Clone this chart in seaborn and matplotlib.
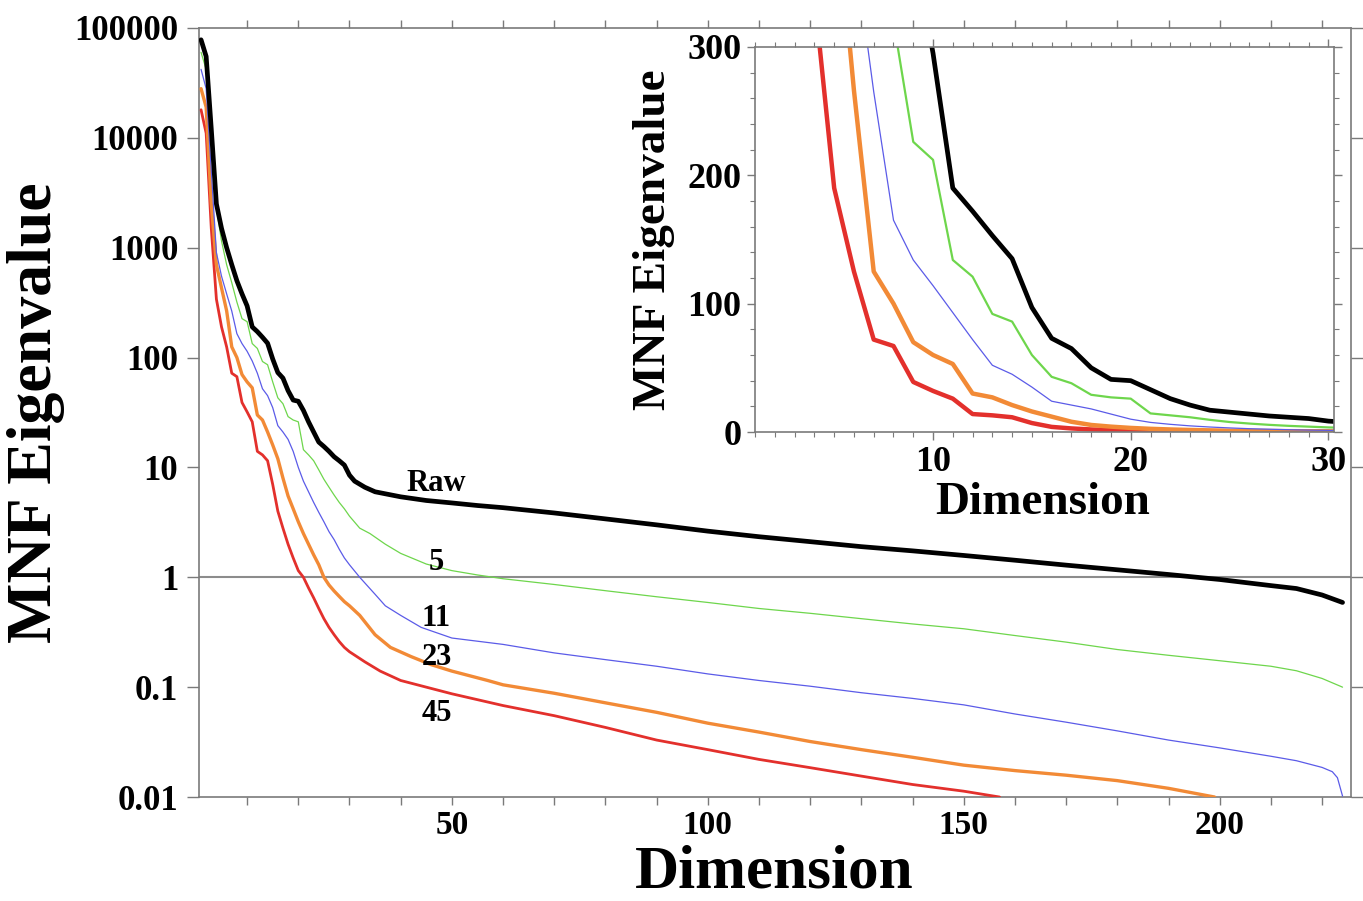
import numpy as np
import pandas as pd
import matplotlib
matplotlib.use("Agg")
import matplotlib.pyplot as plt
import seaborn as sns
from matplotlib.ticker import MultipleLocator, NullLocator

# ---------------- data ----------------
raw_dim = [1, 2, 3, 4, 5, 6, 7, 8, 9, 10, 11, 12, 13, 14, 15, 16, 17, 18, 19, 20,
           21, 22, 23, 24, 25, 26, 27, 28, 29, 30, 31, 33, 35, 40, 45, 50, 55, 60,
           70, 80, 90, 100, 110, 120, 130, 140, 150, 160, 170, 180, 190, 200, 210,
           215, 220, 224]
raw_val = [78000, 55000, 12000, 2500, 1500, 1000, 700, 500, 380, 295, 190, 172, 153,
           135, 97, 73, 65, 50, 41, 40, 33, 26, 21, 17, 15.5, 14, 12.5, 11.5, 10.5,
           8.5, 7.5, 6.6, 6.0, 5.4, 5.0, 4.75, 4.5, 4.3, 3.85, 3.4, 3.0, 2.63, 2.34,
           2.11, 1.9, 1.74, 1.58, 1.43, 1.29, 1.17, 1.06, 0.955, 0.84, 0.79, 0.69, 0.59]

s5_dim = [1, 2, 3, 4, 5, 6, 7, 8, 9, 10, 11, 12, 13, 14, 15, 16, 17, 18, 19, 20,
          21, 22, 23, 24, 25, 26, 27, 28, 29, 30, 32, 34, 37, 40, 45, 50, 55, 60,
          70, 80, 90, 100, 110, 120, 130, 140, 150, 160, 170, 180, 190, 200, 210,
          215, 220, 224]
s5_val = [60000, 42000, 9000, 2300, 1150, 700, 480, 320, 226, 212, 134, 121, 92, 86,
          60, 43, 38, 29, 27, 26, 14.5, 13, 11.5, 9.5, 7.8, 6.6, 5.6, 4.8, 4.2, 3.6,
          2.8, 2.5, 2.0, 1.65, 1.32, 1.15, 1.05, 0.97, 0.86, 0.755, 0.665, 0.59,
          0.52, 0.47, 0.42, 0.376, 0.34, 0.295, 0.257, 0.22, 0.195, 0.174, 0.155,
          0.141, 0.12, 0.10]

s11_dim = [1, 2, 3, 4, 5, 6, 7, 8, 9, 10, 11, 12, 13, 14, 15, 16, 17, 18, 19, 20,
           21, 22, 23, 24, 25, 26, 27, 28, 29, 30, 32, 35, 37, 40, 44, 50, 60, 70,
           80, 90, 100, 110, 120, 130, 140, 150, 160, 170, 180, 190, 200, 210, 215,
           220, 222, 223, 224]
s11_val = [42000, 28000, 5000, 900, 550, 380, 265, 165, 134, 114, 93, 72, 52, 45, 35,
           24, 21, 18, 14, 10, 7.5, 6, 4.8, 3.9, 3.2, 2.6, 2.2, 1.8, 1.5, 1.3, 1.0,
           0.7, 0.55, 0.45, 0.35, 0.28, 0.245, 0.205, 0.178, 0.155, 0.132, 0.115,
           0.102, 0.089, 0.079, 0.069, 0.057, 0.048, 0.040, 0.033, 0.028, 0.0235,
           0.0214, 0.0186, 0.017, 0.015, 0.0102]

s23_dim = [1, 2, 3, 4, 5, 6, 7, 8, 9, 10, 11, 12, 13, 14, 15, 16, 17, 18, 19, 20,
           21, 22, 23, 24, 25, 26, 27, 28, 29, 30, 32, 35, 38, 42, 46, 50, 57, 60,
           70, 80, 90, 100, 110, 120, 130, 140, 150, 160, 170, 180, 190, 199]
s23_val = [28000, 19000, 2500, 700, 430, 266, 125, 100, 70, 60, 53, 30, 27, 21, 16,
           12, 8, 5.5, 4.2, 3.2, 2.5, 2.0, 1.6, 1.3, 1.0, 0.85, 0.75, 0.67, 0.6, 0.55,
           0.45, 0.3, 0.23, 0.19, 0.16, 0.14, 0.115, 0.105, 0.088, 0.072, 0.059,
           0.047, 0.039, 0.032, 0.027, 0.023, 0.0195, 0.0174, 0.0158, 0.0141, 0.012,
           0.010]

s45_dim = [1, 2, 3, 4, 5, 6, 7, 8, 9, 10, 11, 12, 13, 14, 15, 16, 17, 18, 19, 20,
           21, 22, 23, 24, 25, 26, 27, 28, 29, 30, 33, 36, 40, 45, 50, 60, 70, 80,
           90, 100, 110, 120, 130, 140, 150, 157]
s45_val = [18000, 11000, 1500, 340, 190, 125, 72, 67, 39, 32, 26, 14, 13, 11.5, 7, 4,
           2.8, 2.0, 1.5, 1.15, 1.0, 0.8, 0.65, 0.52, 0.42, 0.35, 0.3, 0.26, 0.23,
           0.21, 0.17, 0.14, 0.115, 0.10, 0.087, 0.068, 0.055, 0.043, 0.033, 0.027,
           0.022, 0.0185, 0.0155, 0.013, 0.0113, 0.010]

series_names = ["45", "23", "11", "5", "Raw"]
series_dims = [s45_dim, s23_dim, s11_dim, s5_dim, raw_dim]
series_vals = [s45_val, s23_val, s11_val, s5_val, raw_val]
series_colors = ["#e3302c", "#f28a36", "#5b5be8", "#6ed64c", "#000000"]
main_lw = [2.0, 2.4, 0.9, 0.9, 3.4]
inset_lw = [3.2, 3.2, 0.9, 1.6, 3.4]

main_ytick_vals = [0.01, 0.1, 1, 10, 100, 1000, 10000, 100000]
main_ytick_labels = ["0.01", "0.1", "1", "10", "100", "1000", "10000", "100000"]
main_xtick_vals = [50, 100, 150, 200]
inset_xtick_vals = [10, 20, 30]
inset_ytick_vals = [0, 100, 200, 300]

label_x = 47
label_y = {"Raw": 7.1, "5": 1.36, "11": 0.42, "23": 0.188, "45": 0.058}

# ---------------- styling ----------------
sns.set_style("white")
plt.rcParams['font.family'] = ['Liberation Serif', 'DejaVu Serif']
plt.rcParams['font.weight'] = 'bold'
plt.rcParams['axes.labelweight'] = 'bold'
plt.rcParams['text.color'] = 'black'
plt.rcParams['axes.labelcolor'] = 'black'
plt.rcParams['xtick.labelcolor'] = 'black'
plt.rcParams['ytick.labelcolor'] = 'black'

frames = []
for name, d, v in zip(series_names, series_dims, series_vals):
    frames.append(pd.DataFrame({"Dimension": d, "Eigenvalue": v, "series": name}))
df = pd.concat(frames, ignore_index=True)

spine_col = "#7a7a7a"
fig = plt.figure(figsize=(13.63, 9.01), dpi=100)

# ---------------- main axes ----------------
ax = fig.add_axes([0.146, 0.1154, 0.845, 0.8536])
ax.axhline(1, color="#8c8c8c", lw=1.5, zorder=1)
for name, col, lw in zip(series_names, series_colors, main_lw):
    sub = df[df["series"] == name]
    sns.lineplot(data=sub, x="Dimension", y="Eigenvalue", ax=ax, color=col,
                 linewidth=lw, estimator=None, sort=False, legend=False, zorder=3)
ax.set_yscale("log")
ax.set_ylim(0.01, 100000)
ax.set_xlim(0.6, 225.6)
ax.set_yticks(main_ytick_vals, labels=main_ytick_labels)
ax.yaxis.set_minor_locator(NullLocator())
ax.set_xticks(main_xtick_vals, labels=[str(v) for v in main_xtick_vals])
ax.xaxis.set_minor_locator(MultipleLocator(10))
ax.tick_params(axis="y", which="major", direction="out", length=9, width=1,
               color=spine_col, labelcolor="black", labelsize=25, pad=6,
               left=True, right=True)
ax.tick_params(axis="x", which="both", direction="out", length=6, width=1,
               color=spine_col, labelcolor="black", labelsize=24, pad=3,
               bottom=True, top=True)
for t in ax.get_xticklabels() + ax.get_yticklabels():
    t.set_fontweight("bold")
for s in ax.spines.values():
    s.set_color(spine_col)
    s.set_linewidth(1.2)
ax.set_xlabel("Dimension", fontsize=44, fontweight="bold", color="black")
ax.set_ylabel("MNF Eigenvalue", fontsize=46, fontweight="bold", color="black")
ax.xaxis.set_label_coords(0.499, -0.062)
ax.yaxis.set_label_coords(-0.116, 0.5)

for name in series_names:
    ax.text(label_x, label_y[name], name, fontsize=22, fontweight="bold",
            color="black", ha="center", va="center", zorder=5)

# ---------------- inset axes ----------------
ax2 = fig.add_axes([0.554, 0.5205, 0.425, 0.4275])
ax2.set_facecolor("white")
for name, col, lw in zip(series_names, series_colors, inset_lw):
    sub = df[(df["series"] == name) & (df["Dimension"] <= 32)]
    sns.lineplot(data=sub, x="Dimension", y="Eigenvalue", ax=ax2, color=col,
                 linewidth=lw, estimator=None, sort=False, legend=False)
ax2.set_xlim(1, 30.3)
ax2.set_ylim(0, 300)
ax2.set_xticks(inset_xtick_vals, labels=[str(v) for v in inset_xtick_vals])
ax2.set_yticks(inset_ytick_vals, labels=[str(v) for v in inset_ytick_vals])
ax2.xaxis.set_minor_locator(MultipleLocator(1))
ax2.yaxis.set_minor_locator(MultipleLocator(20))
ax2.tick_params(which="major", direction="out", length=6, width=1, color=spine_col,
                labelcolor="black", labelsize=26, pad=4,
                left=True, right=True, top=True, bottom=True)
ax2.tick_params(which="minor", direction="out", length=3.5, width=0.8, color=spine_col,
                left=True, right=True, top=True, bottom=True)
for t in ax2.get_xticklabels() + ax2.get_yticklabels():
    t.set_fontweight("bold")
for s in ax2.spines.values():
    s.set_color(spine_col)
    s.set_linewidth(1.2)
ax2.set_xlabel("Dimension", fontsize=34, fontweight="bold", color="black")
ax2.set_ylabel("MNF Eigenvalue", fontsize=34, fontweight="bold", color="black")
ax2.xaxis.set_label_coords(0.497, -0.13)
ax2.yaxis.set_label_coords(-0.138, 0.5)

fig.savefig("out.png", dpi=100, facecolor="white")
